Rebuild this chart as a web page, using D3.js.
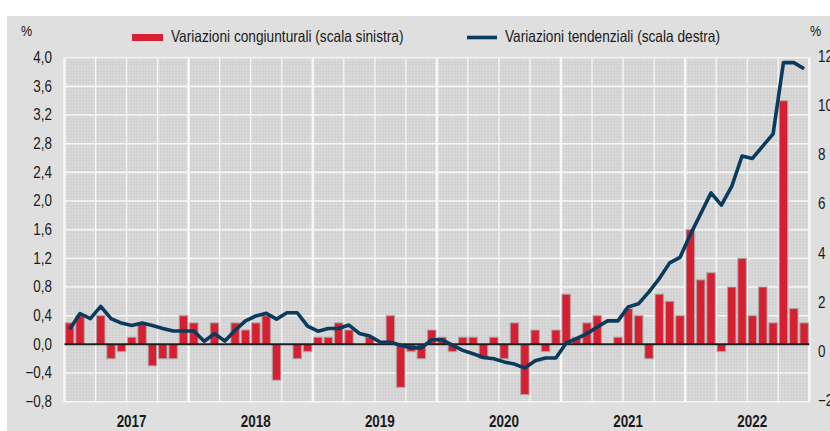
<!DOCTYPE html>
<html>
<head>
<meta charset="utf-8">
<script src="https://cdn.jsdelivr.net/npm/d3@7/dist/d3.min.js"></script>
<style>
  html, body { margin: 0; padding: 0; background: #ffffff; }
  svg { display: block; }
  text { font-family: 'Liberation Sans', Arial, sans-serif; fill: #1a1a1a; }
</style>
</head>
<body>
<svg id="chart" width="830" height="431"></svg>
<script>
// ---- Data ----
const years = ["2017", "2018", "2019", "2020", "2021", "2022"];
const monthNames = ["gen", "feb", "mar", "apr", "mag", "giu", "lug", "ago", "set", "ott", "nov", "dic"];
const categories = years.flatMap(y => monthNames.map(m => m + " " + y));

// Variazioni congiunturali (scala sinistra), %
const congiunturali = [
  0.3, 0.4, 0.0, 0.4, -0.2, -0.1, 0.1, 0.3, -0.3, -0.2, -0.2, 0.4,   // 2017
  0.3, 0.0, 0.3, 0.0, 0.3, 0.2, 0.3, 0.4, -0.5, 0.0, -0.2, -0.1,     // 2018
  0.1, 0.1, 0.3, 0.2, 0.0, 0.1, 0.0, 0.4, -0.6, -0.1, -0.2, 0.2,     // 2019
  0.1, -0.1, 0.1, 0.1, -0.2, 0.1, -0.2, 0.3, -0.7, 0.2, -0.1, 0.2,   // 2020
  0.7, 0.1, 0.3, 0.4, 0.0, 0.1, 0.5, 0.4, -0.2, 0.7, 0.6, 0.4,       // 2021
  1.6, 0.9, 1.0, -0.1, 0.8, 1.2, 0.4, 0.8, 0.3, 3.4, 0.5, 0.3        // 2022
];

// Variazioni tendenziali (scala destra), %
const tendenziali = [
  0.95, 1.59, 1.38, 1.88, 1.38, 1.2, 1.1, 1.2, 1.1, 0.98, 0.88, 0.88,      // 2017
  0.88, 0.46, 0.77, 0.47, 0.91, 1.29, 1.49, 1.6, 1.36, 1.62, 1.62, 1.08,   // 2018
  0.87, 0.98, 0.98, 1.12, 0.78, 0.67, 0.43, 0.42, 0.3, 0.19, 0.19, 0.52,   // 2019
  0.52, 0.3, 0.09, -0.05, -0.2, -0.25, -0.38, -0.47, -0.63, -0.33, -0.22, -0.22, // 2020
  0.39, 0.57, 0.77, 1.04, 1.29, 1.29, 1.86, 1.99, 2.47, 3.01, 3.65, 3.87,  // 2021
  4.8, 5.65, 6.5, 6.0, 6.76, 8.0, 7.9, 8.4, 8.9, 11.8, 11.8, 11.55         // 2022
];

const leftTicks = [-0.8, -0.4, 0.0, 0.4, 0.8, 1.2, 1.6, 2.0, 2.4, 2.8, 3.2, 3.6, 4.0];
const rightTicks = [-2, 0, 2, 4, 6, 8, 10, 12];
const legendLabels = ["Variazioni congiunturali (scala sinistra)", "Variazioni tendenziali (scala destra)"];
const unitLabel = "%";

// ---- Layout ----
const W = 830, H = 431;
const plot = { left: 64.5, right: 809.3, top: 57.7, bottom: 401.7 };
const colors = { bar: "#d62032", barStroke: "#a9a9a9", line: "#0b3b5c", panel: "#dfdfdf", plotBg: "#d5d5d5", grid: "#f7f7f7", zero: "#1c1c1c" };
const narrow = 0.84; // horizontal squeeze to mimic a narrow sans face

const svg = d3.select("#chart");
const n = categories.length;

const xb = d3.scaleLinear().domain([0, n]).range([plot.left, plot.right]);
const yL = d3.scaleLinear().domain([-0.8, 4.0]).range([plot.bottom, plot.top]);
const yR = d3.scaleLinear().domain([-2, 12]).range([plot.bottom, plot.top]);

const itLocale = d3.formatLocale({ decimal: ",", thousands: ".", grouping: [3], currency: ["", "€"] });
const fmtL = itLocale.format(".1f");
const fmtR = itLocale.format("d");

function place(sel, fx, fy) {
  return sel.attr("transform", (d, i) => `translate(${fx(d, i)},${fy(d, i)}) scale(${narrow},1)`);
}

// Background panel
svg.append("rect").attr("x", 0).attr("y", 0).attr("width", W).attr("height", H).attr("fill", "#ffffff");
svg.append("rect").attr("x", 7).attr("y", 16).attr("width", W - 7).attr("height", H - 16).attr("fill", colors.panel);

// dotted texture for the plot area
const defs = svg.append("defs");
const pat = defs.append("pattern").attr("id", "dots").attr("width", 3).attr("height", 3).attr("patternUnits", "userSpaceOnUse");
pat.append("rect").attr("width", 3).attr("height", 3).attr("fill", colors.plotBg);
pat.append("rect").attr("x", 0).attr("y", 0).attr("width", 1).attr("height", 1).attr("fill", "#e2e2e2");
pat.append("rect").attr("x", 1.5).attr("y", 1.5).attr("width", 1).attr("height", 1).attr("fill", "#cdcdcd");

svg.append("rect")
  .attr("x", plot.left).attr("y", plot.top)
  .attr("width", plot.right - plot.left).attr("height", plot.bottom - plot.top)
  .attr("fill", "url(#dots)");

// Horizontal grid
svg.append("g").selectAll("line").data(leftTicks).join("line")
  .attr("x1", plot.left).attr("x2", plot.right)
  .attr("y1", d => yL(d)).attr("y2", d => yL(d))
  .attr("stroke", colors.grid).attr("stroke-width", 1.6);

// Vertical grid: quarters (thin) and years (thick)
const boundaries = d3.range(0, n + 1, 3);
svg.append("g").selectAll("line").data(boundaries).join("line")
  .attr("x1", d => xb(d)).attr("x2", d => xb(d))
  .attr("y1", plot.top).attr("y2", plot.bottom)
  .attr("stroke", colors.grid)
  .attr("stroke-width", d => d % 12 === 0 ? 2.6 : 1.3);

// Bars
const bw = 0.82;
svg.append("g").selectAll("rect").data(congiunturali).join("rect")
  .attr("x", (d, i) => xb(i + (1 - bw) / 2))
  .attr("width", xb(bw) - xb(0))
  .attr("y", d => yL(Math.max(0, d)))
  .attr("height", d => Math.abs(yL(d) - yL(0)))
  .attr("fill", colors.bar)
  .attr("stroke", colors.barStroke).attr("stroke-opacity", 0.8).attr("stroke-width", 1.2);

// Zero line (left scale)
svg.append("line")
  .attr("x1", plot.left).attr("x2", plot.right)
  .attr("y1", yL(0)).attr("y2", yL(0))
  .attr("stroke", colors.zero).attr("stroke-width", 2);

// Line
const lineGen = d3.line().x((d, i) => xb(i + 0.5)).y(d => yR(d));
svg.append("path").datum(tendenziali)
  .attr("d", lineGen)
  .attr("fill", "none").attr("stroke", colors.line)
  .attr("stroke-width", 3.6).attr("stroke-linejoin", "round").attr("stroke-linecap", "butt");

// Left axis labels
place(svg.append("g").selectAll("text").data(leftTicks).join("text"), () => 52, d => yL(d) + 1)
  .attr("text-anchor", "end").attr("dominant-baseline", "middle")
  .attr("font-size", 16)
  .text(d => fmtL(d));

// Right axis labels
place(svg.append("g").selectAll("text").data(rightTicks).join("text"), () => 818, d => yR(d))
  .attr("text-anchor", "start").attr("dominant-baseline", "middle")
  .attr("font-size", 16)
  .text(d => fmtR(d));

// Units
place(svg.append("text").datum(0), () => 21, () => 36).attr("font-size", 15).text(unitLabel);
place(svg.append("text").datum(0), () => 810, () => 36).attr("font-size", 15).text(unitLabel);

// Year labels
place(svg.append("g").selectAll("text").data(years).join("text"), (d, i) => xb(i * 12 + 6) + 5, () => 427)
  .attr("text-anchor", "middle").attr("font-size", 16).attr("font-weight", "bold")
  .text(d => d);

// Legend
svg.append("rect").attr("x", 132).attr("y", 34).attr("width", 31).attr("height", 7).attr("fill", colors.bar);
place(svg.append("text").datum(0), () => 171, () => 42).attr("font-size", 16.3).text(legendLabels[0]);
svg.append("line").attr("x1", 467).attr("x2", 497).attr("y1", 37.5).attr("y2", 37.5)
  .attr("stroke", colors.line).attr("stroke-width", 3.6);
place(svg.append("text").datum(0), () => 505, () => 42).attr("font-size", 16.3).text(legendLabels[1]);
</script>
</body>
</html>
